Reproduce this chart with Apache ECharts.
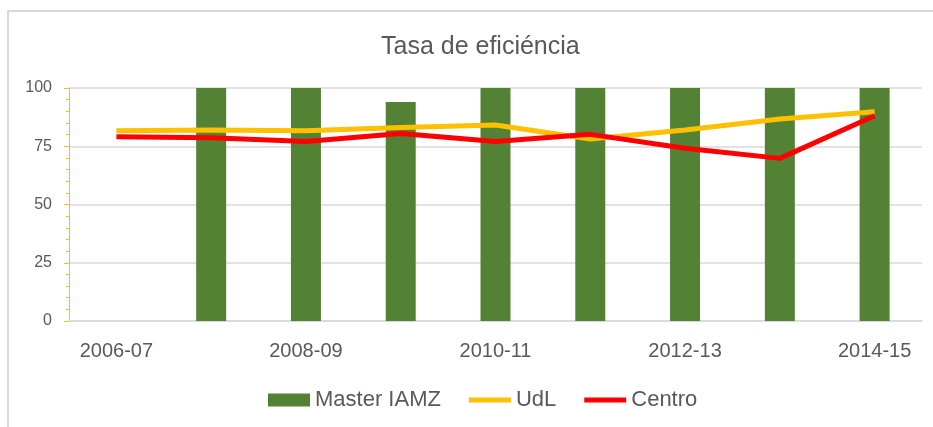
<!DOCTYPE html>
<html>
<head>
<meta charset="utf-8">
<script src="https://cdn.jsdelivr.net/npm/echarts@6/dist/echarts.min.js"></script>
<style>
  html, body { margin: 0; padding: 0; background: #fff; overflow: hidden; }
  #frame { position: absolute; left: 7px; top: 10px; width: 1000px; height: 500px;
           border-top: 2px solid #d9d9d9; border-left: 2px solid #d9d9d9; }
  #chart { position: absolute; left: 0; top: 0; width: 933px; height: 427px; }
</style>
</head>
<body>
<div id="frame"></div>
<div id="chart"></div>
<script>
const years = ['2006-07', '2007-08', '2008-09', '2009-10', '2010-11', '2011-12', '2012-13', '2013-14', '2014-15']
const masterIAMZ = [null, 100, 100, 94, 100, 100, 100, 100, 100]
const udl = [81.7, 82, 81.7, 83, 84.1, 78.1, 82, 86.7, 89.8]
const centro = [79.1, 78.7, 77, 80.5, 77, 80.1, 74.1, 69.8, 88.1]

const font = 'Liberation Sans, Arial, sans-serif'
// flat bar used as legend icon for the two lines
const lineIcon = 'path://M0,0H42V5H0Z'
const chart = echarts.init(document.getElementById('chart'))

chart.setOption({
  backgroundColor: 'transparent',
  animation: false,
  textStyle: { fontFamily: font },
  title: {
    text: 'Tasa de eficiéncia',
    left: 376,
    top: 30,
    textStyle: { fontSize: 25, fontWeight: 'normal', color: '#595959', fontFamily: font },
  },
  grid: { left: 69, right: 11, top: 88, bottom: 106 },
  legend: {
    bottom: 11,
    left: 263,
    itemWidth: 42,
    itemHeight: 13,
    itemGap: 28,
    textStyle: { fontSize: 22, color: '#595959', fontFamily: font },
    data: [
      { name: 'Master IAMZ', icon: 'rect' },
      { name: 'UdL', icon: lineIcon },
      { name: 'Centro', icon: lineIcon },
    ],
  },
  xAxis: {
    type: 'category',
    data: years,
    axisLine: { lineStyle: { color: '#d9d9d9', width: 1.5 } },
    axisTick: { show: false },
    axisLabel: { interval: 1, color: '#595959', fontSize: 20, margin: 20 },
  },
  yAxis: {
    type: 'value',
    min: 0,
    max: 100,
    interval: 25,
    axisLine: { show: true, lineStyle: { color: '#ffc000', width: 1 } },
    axisTick: { show: true, length: 5, lineStyle: { color: '#ffc000' } },
    minorTick: { show: true, splitNumber: 5, length: 3, lineStyle: { color: '#ffc000' } },
    axisLabel: { color: '#595959', fontSize: 16, margin: 17 },
    splitLine: { lineStyle: { color: '#d9d9d9', width: 1.5 } },
  },
  series: [
    {
      name: 'Master IAMZ',
      type: 'bar',
      barWidth: 30,
      data: masterIAMZ,
      itemStyle: { color: '#548235' },
    },
    {
      name: 'UdL',
      type: 'line',
      symbol: 'none',
      data: udl,
      lineStyle: { color: '#ffc000', width: 5 },
      itemStyle: { color: '#ffc000' },
    },
    {
      name: 'Centro',
      type: 'line',
      symbol: 'none',
      data: centro,
      lineStyle: { color: '#ff0000', width: 5 },
      itemStyle: { color: '#ff0000' },
    },
  ],
})
</script>
</body>
</html>
